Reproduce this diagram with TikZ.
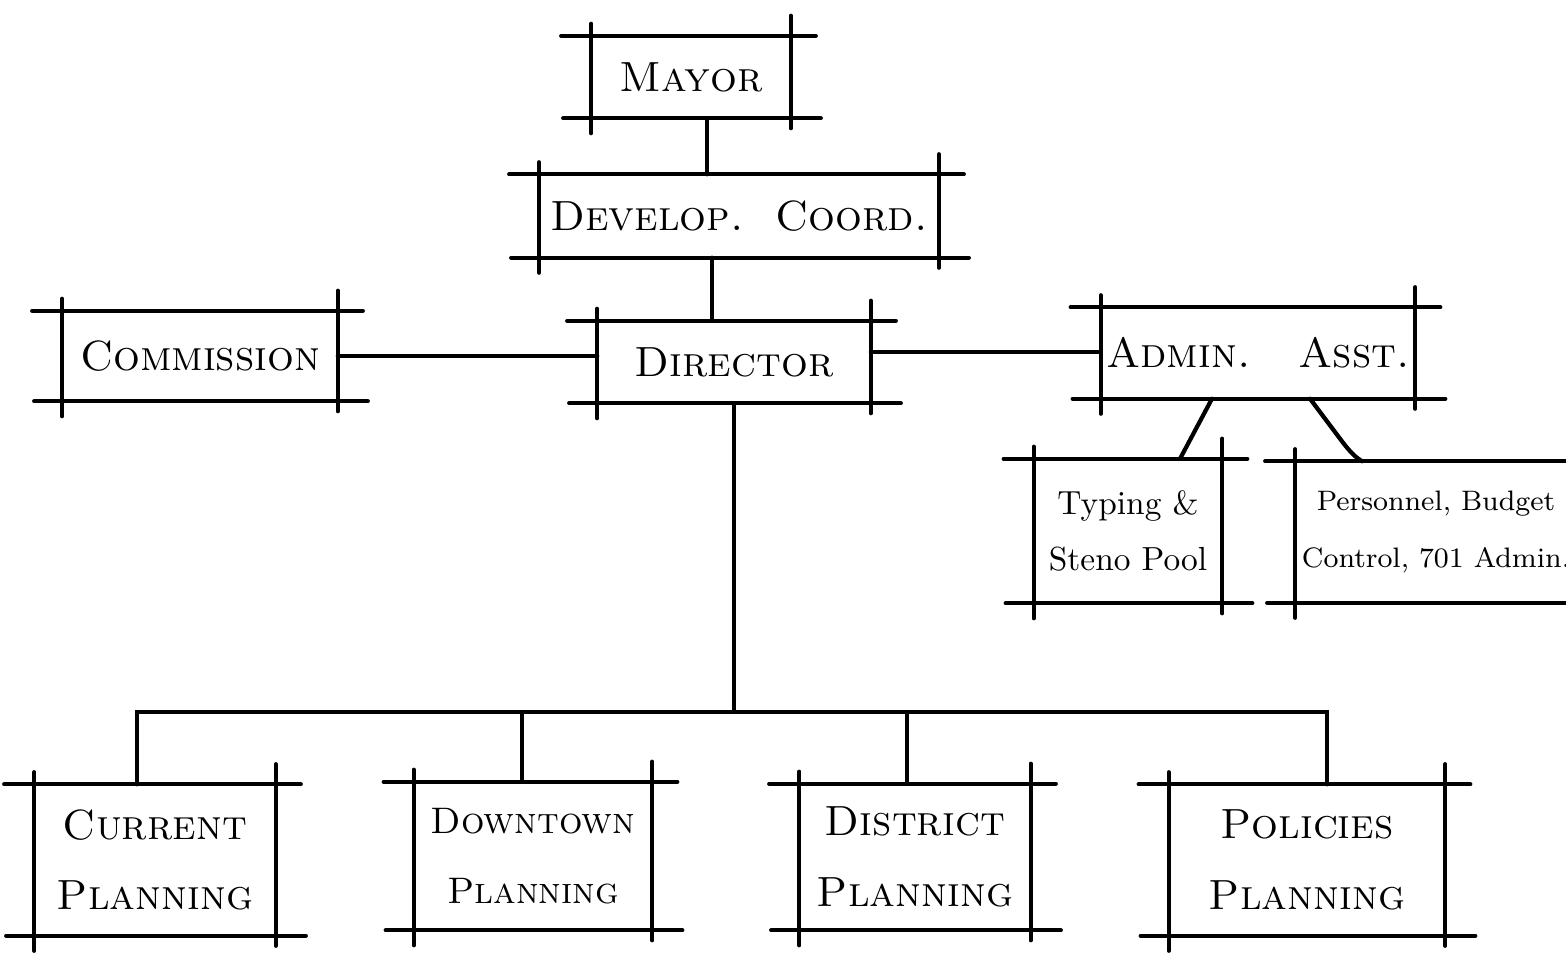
\documentclass[tikz,border=0pt]{standalone}
\usepackage{fontspec}
\usepackage{tikz}

\tikzset{
  unit/.style={font=\fontsize{12}{20}\selectfont\scshape, align=center, inner sep=0pt},
  note/.style={font=\fontsize{9.5}{16}\selectfont, align=center, inner sep=0pt},
  sketch/.style={line width=1.2pt, line cap=round},
  link/.style={line width=1.2pt, line cap=round}
}

\begin{document}
\begin{tikzpicture}[x=0.01cm, y=-0.01cm]
    \useasboundingbox (0,0) rectangle (1566,955);
    % boxes
    \node[unit, minimum width=1.98cm, minimum height=0.81cm] (mayor) at (691,77) {Mayor};
    \node[unit, minimum width=3.98cm, minimum height=0.82cm] (coord) at (739,216) {Develop.\ \ Coord.};
    \node[unit, minimum width=2.74cm, minimum height=0.89cm] (comm) at (200,356) {Commission};
    \node[unit, minimum width=2.72cm, minimum height=0.81cm] (dir) at (734,362) {Director};
    \node[unit, minimum width=3.13cm, minimum height=0.90cm] (admin) at (1258,353) {Admin.\ \ \ Asst.};
    \node[note, minimum width=1.87cm, minimum height=1.43cm] (typing) at (1128,531) {Typing \&\\Steno Pool};
    \node[note, font=\fontsize{8}{16}\selectfont, minimum width=2.80cm, minimum height=1.40cm] (pers) at (1436,532) {Personnel, Budget\\Control, 701 Admin.};
    \node[unit, minimum width=2.40cm, minimum height=1.50cm] (cur) at (155,860) {Current\\Planning};
    \node[unit, font=\fontsize{10.5}{20}\selectfont\scshape, minimum width=2.37cm, minimum height=1.47cm] (down) at (533,856) {Downtown\\Planning};
    \node[unit, minimum width=2.30cm, minimum height=1.45cm] (dist) at (915,857) {District\\Planning};
    \node[unit, minimum width=2.75cm, minimum height=1.50cm] (pol) at (1307,860) {Policies\\Planning};
    % sketched frames with overshooting strokes
    \foreach \n in {mayor,coord,comm,dir,admin,typing,pers,cur,down,dist,pol} {
      \draw[sketch] ([xshift=-0.30cm]\n.north west) -- ([xshift=0.25cm]\n.north east);
      \draw[sketch] ([xshift=-0.28cm]\n.south west) -- ([xshift=0.30cm]\n.south east);
      \draw[sketch] ([yshift=0.12cm]\n.north west) -- ([yshift=-0.15cm]\n.south west);
      \draw[sketch] ([yshift=0.20cm]\n.north east) -- ([yshift=-0.10cm]\n.south east);
    }
    % connectors
    \draw[link] ([xshift=0.16cm]mayor.south) -- ([xshift=0.16cm]mayor.south |- coord.north);
    \draw[link] ([xshift=-0.27cm]coord.south) -- ([xshift=-0.27cm]coord.south |- dir.north);
    \draw[link] (comm.east) -- (comm.east -| dir.west);
    \draw[link] ([yshift=0.10cm]dir.east) -- ([yshift=0.10cm]dir.east -| admin.west);
    \draw[link] ([xshift=-0.46cm]admin.south) -- ([xshift=0.52cm]typing.north);
    \draw[link] ([xshift=0.52cm]admin.south) -- ++(30,40)
      .. controls +(12,16) and +(-6,-4) .. ([xshift=-0.74cm]pers.north);
    \coordinate (bus) at (734,712);
    \draw[link] (dir.south) -- (bus);
    \foreach \n/\dx in {cur/-0.18,down/-0.11,dist/-0.08,pol/0.20}
      \draw[link] ([xshift=\dx cm]\n.north) |- (bus);
  \end{tikzpicture}
\end{document}
